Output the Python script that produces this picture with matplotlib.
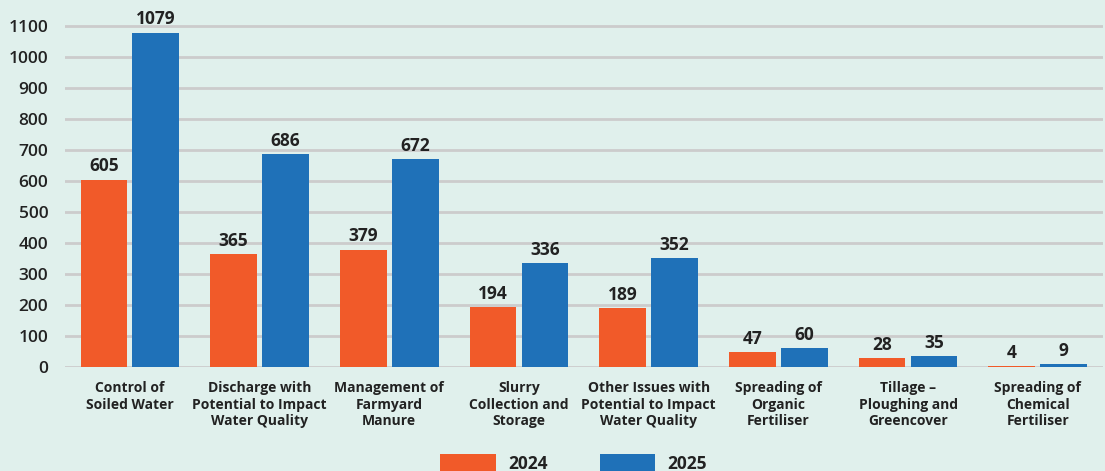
import matplotlib.pyplot as plt
import numpy as np

categories = ["Control of\nSoiled Water",
              "Discharge with\nPotential to Impact\nWater Quality",
              "Management of\nFarmyard\nManure",
              "Slurry\nCollection and\nStorage",
              "Other Issues with\nPotential to Impact\nWater Quality",
              "Spreading of\nOrganic\nFertiliser",
              "Tillage \u2013\nPloughing and\nGreencover",
              "Spreading of\nChemical\nFertiliser"]
vals_2024 = [605, 365, 379, 194, 189, 47, 28, 4]
vals_2025 = [1079, 686, 672, 336, 352, 60, 35, 9]
yticks = list(range(0, 1101, 100))

bg = '#e0f0ec'
orange = '#f15a29'
blue = '#1f71b8'
txt = '#222222'

plt.rcParams['font.family'] = ['Open Sans', 'DejaVu Sans']

fig = plt.figure(figsize=(11.05, 4.71), dpi=100, facecolor=bg)
ax = fig.add_axes([0.0588, 0.2208, 0.939, 0.779])
ax.set_facecolor(bg)

x = np.arange(len(categories))
w = 0.36
b1 = ax.bar(x - 0.2, vals_2024, w, color=orange, label='2024', zorder=3)
b2 = ax.bar(x + 0.2, vals_2025, w, color=blue, label='2025', zorder=3)

# value labels above each bar
for bars in (b1, b2):
    for r in bars:
        ax.annotate(str(int(r.get_height())), (r.get_x() + r.get_width() / 2, r.get_height()),
                    xytext=(0, 3), textcoords='offset points', ha='center', va='bottom',
                    fontsize=12.5, fontweight='bold', color=txt)

ax.set_xlim(-0.5, len(categories) - 0.5)
ax.set_ylim(0, 1184)
ax.set_yticks(yticks)
ax.set_yticklabels([str(t) for t in yticks], fontsize=12.5, color=txt, fontweight='semibold')
ax.set_xticks(x)
ax.set_xticklabels(categories, fontsize=10, fontweight='bold', color=txt, linespacing=1.25)
ax.tick_params(axis='y', length=0, pad=12)
ax.tick_params(axis='x', length=0, pad=10)
ax.grid(axis='y', color='#cccccc', linewidth=2, zorder=0)
for s in ax.spines.values():
    s.set_visible(False)

leg = fig.legend(handles=[b1, b2], loc='center', bbox_to_anchor=(0.519, 0.016), ncol=2,
                 frameon=False, handlelength=3.2, handleheight=1.3, columnspacing=3.0,
                 handletextpad=0.7, prop={'weight': 'bold', 'size': 12.5})
for t in leg.get_texts():
    t.set_color(txt)

plt.savefig('out.png', dpi=100, facecolor=bg)
